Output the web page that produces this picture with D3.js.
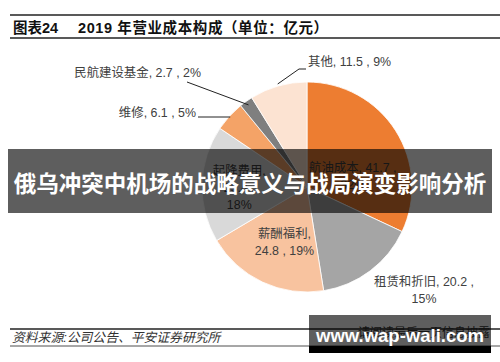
<!DOCTYPE html>
<html>
<head>
<meta charset="utf-8">
<script src="https://cdn.jsdelivr.net/npm/d3@7"></script>
<style>
  body { margin: 0; background: #fff; }
  svg { display: block; }
</style>
</head>
<body>
<svg id="chart"></svg>
<script>
// Chart data
const categories = ["航油成本", "租赁和折旧", "薪酬福利", "起降费用", "维修", "民航建设基金", "其他"];
const values = [41.7, 20.2, 24.8, 23.4, 6.1, 2.7, 11.5];
const percents = ["32%", "15%", "19%", "18%", "5%", "2%", "9%"];
const colors = ["#ED7D31", "#A5A5A5", "#F8C39F", "#D9D9D9", "#F4A367", "#7F7F7F", "#FCE3D2"];

const width = 500;
const height = 362;
const FONT = "'Liberation Sans', 'Noto Sans CJK SC', sans-serif";
const LABEL_COLOR = "#404040";
const LABEL_SIZE = 12.4;

const cx = 307, cy = 187, radius = 105;

const svg = d3.select("#chart")
    .attr("width", width)
    .attr("height", height)
    .attr("viewBox", [0, 0, width, height]);

// Header -----------------------------------------------------------------
svg.append("line").attr("x1", 10).attr("x2", 500).attr("y1", 15).attr("y2", 15)
    .attr("stroke", "#222").attr("stroke-width", 1.5);
svg.append("line").attr("x1", 10).attr("x2", 500).attr("y1", 38).attr("y2", 38)
    .attr("stroke", "#222").attr("stroke-width", 1.5);
svg.append("text").attr("x", 13).attr("y", 33)
    .attr("font-family", FONT).attr("font-size", 14.5).attr("font-weight", "bold").attr("fill", "#111")
    .text("图表24");
svg.append("text").attr("x", 78).attr("y", 33)
    .attr("font-family", FONT).attr("font-size", 14.5).attr("font-weight", "bold").attr("fill", "#111")
    .attr("letter-spacing", 0.6)
    .text("2019 年营业成本构成（单位：亿元）");

// Pie ----------------------------------------------------------------------
const pie = d3.pie().sort(null).value(d => d)(values);
const arc = d3.arc().innerRadius(0).outerRadius(radius);
const g = svg.append("g").attr("transform", `translate(${cx},${cy})`);

g.selectAll("path")
    .data(pie)
    .join("path")
    .attr("d", arc)
    .attr("fill", (d, i) => colors[i])
    .attr("stroke", "#fff")
    .attr("stroke-width", 0.8);

// Label layout (offsets from the slice centroid, or fixed spots for outside labels)
const labelArc = d3.arc().innerRadius(radius * 0.55).outerRadius(radius * 0.55);
const lbl = (i) => labelArc.centroid(pie[i]);

function addLines(x, y, lines, anchor) {
    const t = svg.append("text")
        .attr("font-family", FONT).attr("font-size", LABEL_SIZE).attr("fill", LABEL_COLOR)
        .attr("text-anchor", anchor || "middle");
    lines.forEach((s, k) => {
        t.append("tspan").attr("x", x).attr("y", y + k * 17).text(s);
    });
}

const lab = (i) => `${categories[i]}, ${values[i]} , ${percents[i]}`;

// inside labels
let c = lbl(0);
addLines(cx + c[0] - 3, cy + c[1] + 16, [`${categories[0]}, ${values[0]} ,`, percents[0]]);
c = lbl(3);
addLines(cx + c[0] - 10, cy + c[1] - 10, [`${categories[3]},`, `${values[3]} ,`, percents[3]]);
c = lbl(2);
addLines(cx + c[0] + 2, cy + c[1] - 1, [`${categories[2]},`, `${values[2]} , ${percents[2]}`]);

// outside labels
addLines(424, 286, [`${categories[1]}, ${values[1]} ,`, percents[1]]);
addLines(196, 117, [lab(4)], "end");
addLines(201, 77, [lab(5)], "end");
addLines(308, 66, [lab(6)], "start");

// leader lines
const leader = d3.line();
function pointOn(i, r) {
    const a = (pie[i].startAngle + pie[i].endAngle) / 2;
    return [cx + Math.sin(a) * r, cy - Math.cos(a) * r];
}
const p4 = pointOn(4, radius * 0.99);
svg.append("path").attr("d", leader([[198, 117], [p4[0], 117]]))
    .attr("fill", "none").attr("stroke", "#222").attr("stroke-width", 1);
const p5 = pointOn(5, radius * 0.96);
svg.append("path").attr("d", leader([[187, 82], p5]))
    .attr("fill", "none").attr("stroke", "#222").attr("stroke-width", 1);
const p6 = pointOn(6, radius * 1.02);
svg.append("path").attr("d", leader([p6, [299, 69], [306, 69]]))
    .attr("fill", "none").attr("stroke", "#222").attr("stroke-width", 1);

// Footer -------------------------------------------------------------------
svg.append("line").attr("x1", 10).attr("x2", 500).attr("y1", 329).attr("y2", 329)
    .attr("stroke", "#222").attr("stroke-width", 1.5);
svg.append("line").attr("x1", 10).attr("x2", 500).attr("y1", 346).attr("y2", 346)
    .attr("stroke", "#222").attr("stroke-width", 0.8);
svg.append("text").attr("x", 12).attr("y", 342)
    .attr("font-family", FONT).attr("font-size", 12.8).attr("font-style", "italic").attr("fill", "#333")
    .text("资料来源:公司公告、平安证券研究所");
svg.append("text").attr("x", 490).attr("y", 337).attr("text-anchor", "end")
    .attr("font-family", FONT).attr("font-size", 12).attr("fill", "#333")
    .text("请阅读最后一页信息披露");

// Overlays -----------------------------------------------------------------
svg.append("rect").attr("x", 8).attr("y", 149).attr("width", 484).attr("height", 64)
    .attr("fill", "#000").attr("fill-opacity", 0.63);
svg.append("text").attr("x", 250).attr("y", 192).attr("text-anchor", "middle")
    .attr("font-family", "'Noto Sans CJK SC', sans-serif").attr("font-size", 22.5).attr("font-weight", "bold")
    .attr("fill", "#fff")
    .text("俄乌冲突中机场的战略意义与战局演变影响分析");

svg.append("rect").attr("x", 309).attr("y", 315).attr("width", 182).attr("height", 31)
    .attr("fill", "#000").attr("fill-opacity", 0.63);
svg.append("rect").attr("x", 309).attr("y", 346).attr("width", 182).attr("height", 7)
    .attr("fill", "#000");
svg.append("text").attr("x", 400).attr("y", 342).attr("text-anchor", "middle")
    .attr("font-family", "'Liberation Sans', sans-serif").attr("font-size", 18.5).attr("font-weight", "bold")
    .attr("fill", "#fff")
    .text("www.wap-wali.com");
</script>
</body>
</html>
